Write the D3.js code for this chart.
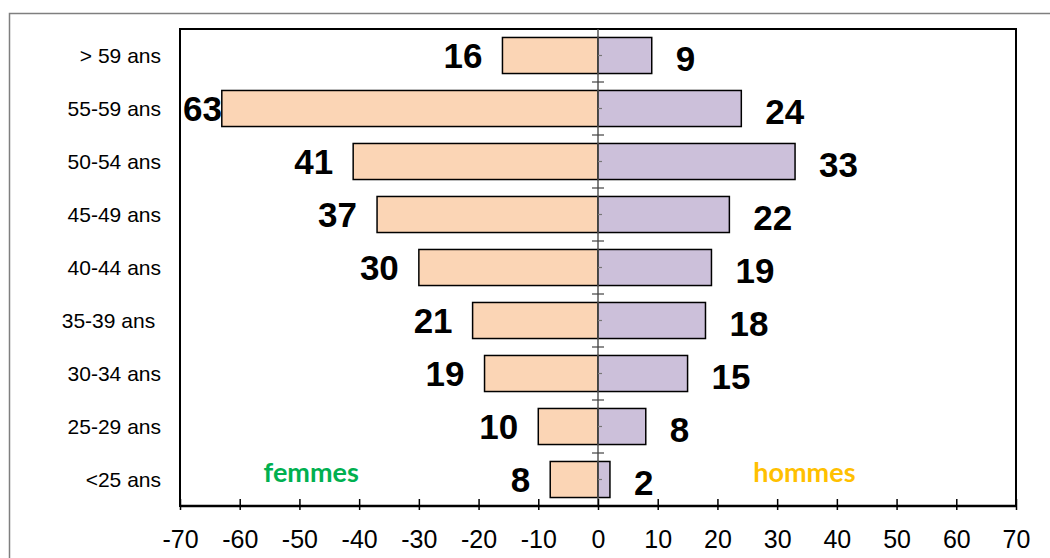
<!DOCTYPE html>
<html>
<head>
<meta charset="utf-8">
<script src="https://cdn.jsdelivr.net/npm/d3@7"></script>
<style>
  body { margin: 0; background: #fff; }
  svg { display: block; }
</style>
</head>
<body>
<div id="chart"></div>
<script>
var categories = ["> 59 ans", "55-59 ans", "50-54 ans", "45-49 ans", "40-44 ans",
                  "35-39 ans ", "30-34 ans", "25-29 ans", "<25 ans"];
var femmes = [16, 63, 41, 37, 30, 21, 19, 10, 8];
var hommes = [9, 24, 33, 22, 19, 18, 15, 8, 2];
var xTicks = [-70, -60, -50, -40, -30, -20, -10, 0, 10, 20, 30, 40, 50, 60, 70];

var colFemmes = "#FBD5B5";
var colHommes = "#CCC0DA";

var width = 1050, height = 558;
var plotLeft = 180, plotRight = 1016, plotTop = 29, plotBottom = 506;

var svg = d3.select("#chart")
    .append("svg")
    .attr("width", width)
    .attr("height", height);

// outer chart frame (runs off the picture right and bottom)
svg.append("rect")
    .attr("x", 9.5).attr("y", 13.5)
    .attr("width", 1200).attr("height", 700)
    .attr("fill", "none")
    .attr("stroke", "#7f7f7f")
    .attr("stroke-width", 1.5);

var x = d3.scaleLinear().domain([-70, 70]).range([plotLeft, plotRight]);
var y = d3.scaleBand().domain(categories).range([plotTop, plotBottom])
    .paddingInner(0.32).paddingOuter(0.16);
var step = y.step();

// plot box
svg.append("rect")
    .attr("x", plotLeft).attr("y", plotTop)
    .attr("width", plotRight - plotLeft).attr("height", plotBottom - plotTop)
    .attr("fill", "none")
    .attr("stroke", "#000")
    .attr("stroke-width", 2);

// bars
svg.selectAll(".barF")
    .data(femmes)
    .enter()
    .append("rect")
    .attr("class", "barF")
    .attr("x", function (d) { return x(-d); })
    .attr("y", function (d, i) { return y(categories[i]); })
    .attr("width", function (d) { return x(0) - x(-d); })
    .attr("height", y.bandwidth())
    .attr("fill", colFemmes)
    .attr("stroke", "#000")
    .attr("stroke-width", 1.5);

svg.selectAll(".barH")
    .data(hommes)
    .enter()
    .append("rect")
    .attr("class", "barH")
    .attr("x", x(0))
    .attr("y", function (d, i) { return y(categories[i]); })
    .attr("width", function (d) { return x(d) - x(0); })
    .attr("height", y.bandwidth())
    .attr("fill", colHommes)
    .attr("stroke", "#000")
    .attr("stroke-width", 1.5);

// central vertical axis with ticks
svg.append("line")
    .attr("x1", x(0)).attr("x2", x(0))
    .attr("y1", plotTop).attr("y2", plotBottom)
    .attr("stroke", "#555")
    .attr("stroke-width", 1.5);

var bounds = d3.range(1, categories.length).map(function (i) { return plotTop + step * i; });
svg.selectAll(".ytick")
    .data(bounds)
    .enter()
    .append("line")
    .attr("x1", x(0) - 6).attr("x2", x(0) + 6)
    .attr("y1", function (d) { return d; })
    .attr("y2", function (d) { return d; })
    .attr("stroke", "#444")
    .attr("stroke-width", 1.2);

svg.selectAll(".ymid")
    .data(categories)
    .enter()
    .append("line")
    .attr("x1", x(0)).attr("x2", x(0) + 4)
    .attr("y1", function (d) { return y(d) + y.bandwidth() / 2; })
    .attr("y2", function (d) { return y(d) + y.bandwidth() / 2; })
    .attr("stroke", "#777")
    .attr("stroke-width", 1.2);

// category labels
svg.selectAll(".cat")
    .data(categories)
    .enter()
    .append("text")
    .attr("xml:space", "preserve")
    .attr("x", 161)
    .attr("y", function (d) { return y(d) + y.bandwidth() / 2; })
    .attr("dy", "0.36em")
    .attr("text-anchor", "end")
    .style("font-family", "'Liberation Sans', Arial, sans-serif")
    .style("font-size", "21px")
    .style("fill", "#000")
    .text(function (d) { return d; });

// bottom axis
var xAxis = d3.axisBottom(x).tickValues(xTicks)
    .tickFormat(function (d) { return String(d); })
    .tickSize(0).tickPadding(0);
var gx = svg.append("g")
    .attr("transform", "translate(0," + plotBottom + ")")
    .call(xAxis);
gx.select(".domain").remove();
gx.selectAll(".tick line").remove();
gx.selectAll(".tick")
    .append("line")
    .attr("y1", -7).attr("y2", 4)
    .attr("stroke", "#000")
    .attr("stroke-width", 1.5);
gx.selectAll(".tick text")
    .attr("y", 42)
    .attr("dy", 0)
    .style("font-family", "'Liberation Sans', Arial, sans-serif")
    .style("font-size", "25px")
    .style("fill", "#000");
svg.append("line")
    .attr("x1", plotLeft).attr("x2", plotRight)
    .attr("y1", plotBottom).attr("y2", plotBottom)
    .attr("stroke", "#000")
    .attr("stroke-width", 2.5);

// value labels
var labF = svg.selectAll(".valF")
    .data(femmes)
    .enter()
    .append("text")
    .attr("class", "valF")
    .attr("x", function (d) { return x(-d) - 20; })
    .attr("y", function (d, i) { return y(categories[i]) + y.bandwidth() / 2; })
    .attr("dy", "0.35em")
    .attr("text-anchor", "end")
    .style("font-family", "'Liberation Sans', Arial, sans-serif")
    .style("font-weight", "bold")
    .style("font-size", "35px")
    .text(function (d) { return d; });

// keep labels inside the plot box
labF.each(function (d) {
    var bb = this.getBBox();
    if (bb.x < plotLeft + 2) {
        d3.select(this).attr("text-anchor", "start").attr("x", plotLeft + 3);
    }
});

svg.selectAll(".valH")
    .data(hommes)
    .enter()
    .append("text")
    .attr("class", "valH")
    .attr("x", function (d) { return x(d) + 24; })
    .attr("y", function (d, i) { return y(categories[i]) + y.bandwidth() / 2 + 3; })
    .attr("dy", "0.35em")
    .attr("text-anchor", "start")
    .style("font-family", "'Liberation Sans', Arial, sans-serif")
    .style("font-weight", "bold")
    .style("font-size", "35px")
    .text(function (d) { return d; });

// series names
var lastBand = y(categories[categories.length - 1]) + y.bandwidth() / 2;
svg.append("text")
    .attr("x", x(-56))
    .attr("y", lastBand)
    .attr("dy", "0.1em")
    .style("font-family", "Lato, 'Open Sans', sans-serif")
    .style("font-weight", "bold")
    .style("font-size", "27px")
    .style("fill", "#00B050")
    .text("femmes");

svg.append("text")
    .attr("x", x(26))
    .attr("y", lastBand)
    .attr("dy", "0.1em")
    .style("font-family", "Lato, 'Open Sans', sans-serif")
    .style("font-weight", "bold")
    .style("font-size", "27px")
    .style("fill", "#FFC000")
    .text("hommes");
</script>
</body>
</html>
